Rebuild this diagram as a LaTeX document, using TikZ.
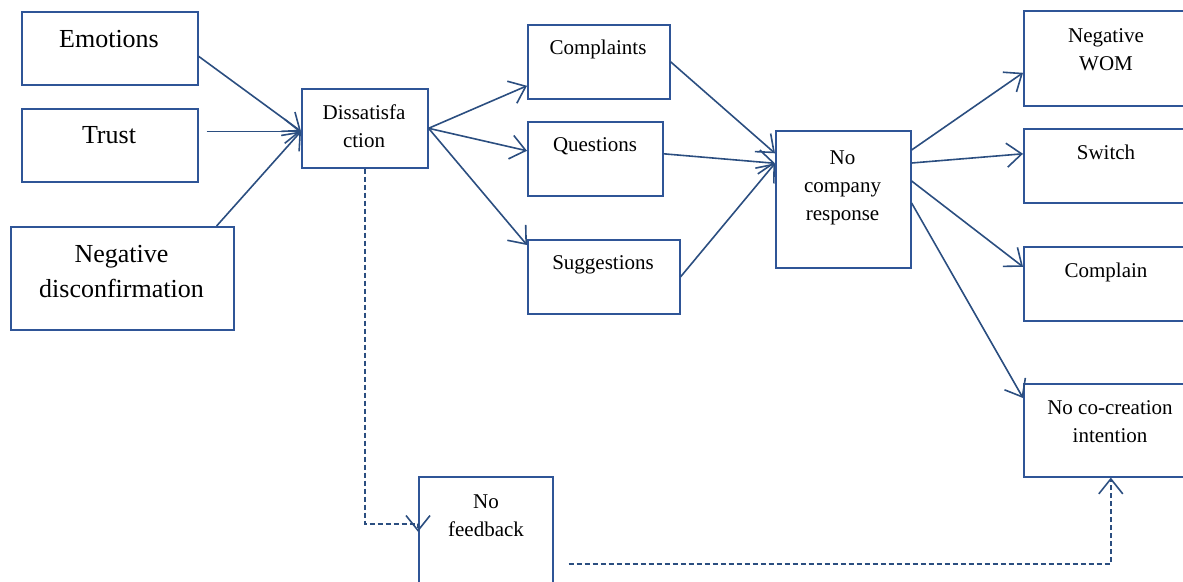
\documentclass[tikz,border=0pt]{standalone}
\usepackage{fontspec}
\setmainfont{Liberation Serif}
\usetikzlibrary{arrows.meta}
\definecolor{bline}{HTML}{2B4E80}
\definecolor{bbox}{HTML}{2F5597}
\begin{document}
\begin{tikzpicture}[x=1pt,y=-1pt,
 box/.style={draw=bbox, line width=1.6pt, rectangle, inner sep=0pt, anchor=north west},
 bigt/.style={font=\fontsize{26}{35}\selectfont, anchor=north, inner sep=0pt, align=center},
 smlt/.style={font=\fontsize{21}{28}\selectfont, anchor=north, inner sep=0pt, align=center},
 conn/.style={draw=bline, line width=1.6pt, -{Straight Barb[length=15pt,width=24pt,line width=1.6pt]}},
 dconn/.style={conn, dash pattern=on 5pt off 3pt}]
\useasboundingbox (0,0) rectangle (1183,581);
\clip (0,0) rectangle (1183,581);
% boxes
\node[box, minimum width=176pt, minimum height=73pt] (emo) at (21,11) {};
\node[box, minimum width=176pt, minimum height=73pt] (tru) at (21,108) {};
\node[box, minimum width=223pt, minimum height=103pt] (neg) at (10,226) {};
\node[box, minimum width=126pt, minimum height=79pt] (dis) at (301,88) {};
\node[box, minimum width=142pt, minimum height=74pt] (com) at (527,24) {};
\node[box, minimum width=135pt, minimum height=74pt] (que) at (527,121) {};
\node[box, minimum width=152pt, minimum height=74pt] (sug) at (527,239) {};
\node[box, minimum width=135pt, minimum height=137pt] (ncr) at (775,130) {};
\node[box, minimum width=170pt, minimum height=95pt] (nwom) at (1023,10) {};
\node[box, minimum width=170pt, minimum height=74pt] (swi) at (1023,128) {};
\node[box, minimum width=170pt, minimum height=74pt] (cpl) at (1023,246) {};
\node[box, minimum width=170pt, minimum height=93pt] (nco) at (1023,383) {};
\node[box, minimum width=134pt, minimum height=120pt] (nfb) at (418,476) {};
% texts
\node[bigt] (emoT) at (109,22.5) {Emotions\strut};
\node[bigt] (truT) at (109,118.5) {Trust\strut};
\node[bigt] (negT) at (121.5,237.5) {Negative\strut\\disconfirmation\strut};
\node[smlt] (disT) at (364,99.4) {Dissatisfa\strut\\ction\strut};
\node[smlt] (comT) at (598,34.4) {Complaints\strut};
\node[smlt] (queT) at (595,131.4) {Questions\strut};
\node[smlt] (sugT) at (603,249.4) {Suggestions\strut};
\node[smlt] (ncrT) at (842.5,144.4) {No\strut\\company\strut\\response\strut};
\node[smlt] (nwomT) at (1106,22.4) {Negative\strut\\WOM\strut};
\node[smlt] (swiT) at (1106,139.4) {Switch\strut};
\node[smlt] (cplT) at (1106,257.4) {Complain\strut};
\node[smlt] (ncoT) at (1110,394.4) {No co-creation\strut\\intention\strut};
\node[smlt] (nfbT) at (486,488.4) {No\strut\\feedback\strut};
% connectors
\draw[conn] ([yshift=-8pt]emo.east) -- ([yshift=-3pt]dis.west);
\draw[conn] ([xshift=8pt,yshift=14pt]tru.east) -- ([yshift=-3pt]dis.west);
\draw[conn] ([xshift=-18pt]neg.north east) -- ([yshift=-3pt]dis.west);
\draw[conn] (dis.east) -- ([yshift=-24pt]com.west);
\draw[conn] (dis.east) -- ([yshift=8pt]que.west);
\draw[conn] (dis.east) -- ([yshift=-6pt]sug.north west);
\draw[conn] (com.east) -- ([yshift=46pt]ncr.west);
\draw[conn] ([yshift=5pt]que.east) -- ([yshift=36pt]ncr.west);
\draw[conn] (sug.east) -- ([yshift=36pt]ncr.west);
\draw[conn] ([yshift=-20pt]ncr.north east) -- ([yshift=-14.5pt]nwom.west);
\draw[conn] ([yshift=-33pt]ncr.north east) -- ([yshift=12pt]swi.west);
\draw[conn] ([yshift=-51pt]ncr.north east) -- ([yshift=17pt]cpl.west);
\draw[conn] ([yshift=-73pt]ncr.north east) -- ([yshift=-15pt]nco.north west);
\draw[dconn] (dis.south) |- ([yshift=13pt]nfb.west) -- ([yshift=5pt]nfb.west);
\coordinate (fbout) at ([xshift=15pt,yshift=-27pt]nfb.east);
\draw[dconn] (fbout) -| ([xshift=2pt]nco.south);
\end{tikzpicture}
\end{document}
